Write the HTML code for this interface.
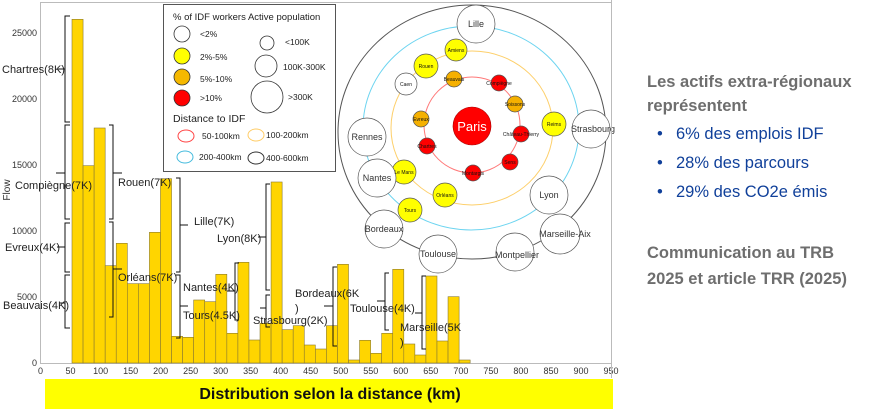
<!DOCTYPE html>
<html><head><meta charset="utf-8"><style>
body{margin:0;width:871px;height:413px;background:#fff;overflow:hidden;font-family:"Liberation Sans",sans-serif}
svg{position:absolute;left:0;top:0}
.r{position:absolute;left:647px;font-family:"Liberation Sans",sans-serif}
</style></head><body>
<svg width="871" height="413" viewBox="0 0 871 413" font-family="Liberation Sans, sans-serif">
<rect x="40.5" y="2.5" width="571" height="361" fill="none" stroke="#bbb" stroke-width="1"/>
<g fill="#FFD500" stroke="#8a7a30" stroke-width="0.6">
<rect x="72" y="19.3" width="11.06" height="343.7"/>
<rect x="83.06" y="165.7" width="11.06" height="197.3"/>
<rect x="94.12" y="128" width="11.06" height="235"/>
<rect x="105.18" y="265.7" width="11.06" height="97.3"/>
<rect x="116.24" y="243.3" width="11.06" height="119.7"/>
<rect x="127.3" y="283.7" width="11.06" height="79.3"/>
<rect x="138.36" y="283.7" width="11.06" height="79.3"/>
<rect x="149.42" y="232.3" width="11.06" height="130.7"/>
<rect x="160.48" y="178.7" width="11.06" height="184.3"/>
<rect x="171.54" y="336.3" width="11.06" height="26.7"/>
<rect x="182.6" y="337.3" width="11.06" height="25.7"/>
<rect x="193.66" y="300" width="11.06" height="63"/>
<rect x="204.72" y="301.7" width="11.06" height="61.3"/>
<rect x="215.78" y="274.3" width="11.06" height="88.7"/>
<rect x="226.84" y="333.3" width="11.06" height="29.7"/>
<rect x="237.9" y="262.3" width="11.06" height="100.7"/>
<rect x="248.96" y="340" width="11.06" height="23"/>
<rect x="260.02" y="323.3" width="11.06" height="39.7"/>
<rect x="271.08" y="182" width="11.06" height="181"/>
<rect x="282.14" y="329.7" width="11.06" height="33.3"/>
<rect x="293.2" y="325.7" width="11.06" height="37.3"/>
<rect x="304.26" y="345" width="11.06" height="18"/>
<rect x="315.32" y="349" width="11.06" height="14"/>
<rect x="326.38" y="325.7" width="11.06" height="37.3"/>
<rect x="337.44" y="264.3" width="11.06" height="98.7"/>
<rect x="348.5" y="360" width="11.06" height="3"/>
<rect x="359.56" y="340.3" width="11.06" height="22.7"/>
<rect x="370.62" y="353.3" width="11.06" height="9.7"/>
<rect x="381.68" y="333.3" width="11.06" height="29.7"/>
<rect x="392.74" y="269.3" width="11.06" height="93.7"/>
<rect x="403.8" y="344" width="11.06" height="19"/>
<rect x="414.86" y="355" width="11.06" height="8"/>
<rect x="425.92" y="276" width="11.06" height="87"/>
<rect x="436.98" y="341" width="11.06" height="22"/>
<rect x="448.04" y="296.7" width="11.06" height="66.3"/>
<rect x="459.1" y="360" width="11.06" height="3"/>
</g>
<g font-size="9" fill="#333" text-anchor="middle">
<text x="40.5" y="374">0</text><text x="70.5" y="374">50</text><text x="100.6" y="374">100</text><text x="130.6" y="374">150</text><text x="160.6" y="374">200</text><text x="190.6" y="374">250</text><text x="220.7" y="374">300</text><text x="250.7" y="374">350</text><text x="280.7" y="374">400</text><text x="310.7" y="374">450</text><text x="340.8" y="374">500</text><text x="370.8" y="374">550</text><text x="400.8" y="374">600</text><text x="430.8" y="374">650</text><text x="460.9" y="374">700</text><text x="490.9" y="374">750</text><text x="520.9" y="374">800</text><text x="551" y="374">850</text><text x="581" y="374">900</text><text x="611" y="374">950</text>
</g>
<g font-size="9" fill="#333" text-anchor="end">
<text x="37" y="366">0</text><text x="37" y="300">5000</text><text x="37" y="234">10000</text><text x="37" y="168">15000</text><text x="37" y="102">20000</text><text x="37" y="36">25000</text>
</g>
<text transform="translate(10,190) rotate(-90)" font-size="10" fill="#333" text-anchor="middle">Flow</text>
<g fill="none" stroke="#111" stroke-width="1">
<path d="M70 16H65V122H70M65 69H58"/>
<path d="M70 125H65V219H70M65 173H56"/>
<path d="M70 223H65V272H70M65 247H57"/>
<path d="M70 275H65V328H70M65 303H60"/>
<path d="M109 125H113V219H109M113 173H122"/>
<path d="M109 222H113V317H109M113 269H122"/>
<path d="M176 178H180V272H176M180 225H188"/>
<path d="M176 275H180V338H176M180 306H188"/>
<path d="M239 263H235V320H239M235 291H227"/>
<path d="M270 184H266V290H270M266 237H258"/>
<path d="M270 295H266V327H270M266 308H260"/>
<path d="M337 267H333V346H337M333 306H324"/>
<path d="M389 273H385V330H389M385 301H377"/>
<path d="M426 276H422V349H426M422 313H415"/>
</g>
<g font-size="11" fill="#222">
<text x="2" y="73">Chartres(8K)</text>
<text x="15" y="189">Compiègne(7K)</text>
<text x="5" y="251">Evreux(4K)</text>
<text x="3" y="309">Beauvais(4K)</text>
<text x="118" y="186">Rouen(7K)</text>
<text x="118" y="281">Orléans(7K)</text>
<text x="194" y="225">Lille(7K)</text>
<text x="183" y="291">Nantes(4K)</text>
<text x="183" y="319">Tours(4.5K)</text>
<text x="217" y="242">Lyon(8K)</text>
<text x="253" y="324">Strasbourg(2K)</text>
<text x="295" y="297">Bordeaux(6K</text>
<text x="295" y="312">)</text>
<text x="350" y="312">Toulouse(4K)</text>
<text x="400" y="331">Marseille(5K</text>
<text x="400" y="346">)</text>
</g>
<!-- legend -->
<rect x="163.5" y="4.5" width="172" height="167" fill="#fff" stroke="#555" stroke-width="1"/>
<text x="173" y="20" font-size="9.5" fill="#222">% of IDF workers Active population</text>
<g stroke="#333" stroke-width="0.8">
<circle cx="182" cy="34" r="8" fill="#fff"/>
<circle cx="182" cy="56" r="8" fill="#ffff00"/>
<circle cx="182" cy="77" r="8" fill="#f5b800"/>
<circle cx="182" cy="98" r="8" fill="#ff0000"/>
<circle cx="267" cy="43" r="7" fill="#fff"/>
<circle cx="266" cy="66" r="11" fill="#fff"/>
<circle cx="267" cy="97" r="16" fill="#fff"/>
</g>
<g font-size="8.5" fill="#222">
<text x="200" y="37">&lt;2%</text><text x="200" y="60">2%-5%</text><text x="200" y="82">5%-10%</text><text x="200" y="101">&gt;10%</text>
<text x="285" y="45">&lt;100K</text><text x="283" y="70">100K-300K</text><text x="288" y="100">&gt;300K</text>
</g>
<text x="173" y="122" font-size="10.5" fill="#222">Distance to IDF</text>
<g fill="none" stroke-width="1">
<ellipse cx="186" cy="136" rx="8" ry="6" stroke="#f44"/>
<ellipse cx="256" cy="135" rx="8" ry="6" stroke="#fc6"/>
<ellipse cx="185" cy="157" rx="8" ry="6" stroke="#4bd"/>
<ellipse cx="256" cy="158" rx="8" ry="6" stroke="#333"/>
</g>
<g font-size="8.5" fill="#222">
<text x="202" y="139">50-100km</text><text x="266" y="138">100-200km</text><text x="199" y="160">200-400km</text><text x="266" y="161">400-600km</text>
</g>
<!-- rings -->
<g fill="none" stroke-width="1">
<ellipse cx="472" cy="132" rx="134" ry="127" stroke="#555"/>
<ellipse cx="471" cy="128" rx="108" ry="102" stroke="#6cd4f0"/>
<ellipse cx="472" cy="128" rx="81" ry="77" stroke="#fdcf6a"/>
<circle cx="472" cy="125" r="48" stroke="#f77"/>
</g>
<circle cx="472" cy="126" r="19" fill="#f00" stroke="#a00" stroke-width="0.6"/>
<text x="472" y="131" font-size="13" fill="#fff" text-anchor="middle">Paris</text>
<g stroke="#555" stroke-width="0.7">
<circle cx="476" cy="24" r="19" fill="#fff"/>
<circle cx="456" cy="50" r="11" fill="#ff0"/>
<circle cx="426" cy="66" r="12" fill="#ff0"/>
<circle cx="406" cy="84" r="11" fill="#fff"/>
<circle cx="454" cy="79" r="8" fill="#f5b000"/>
<circle cx="499" cy="83" r="8" fill="#f00"/>
<circle cx="515" cy="104" r="8" fill="#f5b000"/>
<circle cx="554" cy="124" r="12" fill="#ff0"/>
<circle cx="591" cy="129" r="19" fill="#fff"/>
<circle cx="421" cy="119" r="8" fill="#f5b000"/>
<circle cx="427" cy="146" r="8" fill="#f00"/>
<circle cx="521" cy="134" r="8" fill="#f00"/>
<circle cx="510" cy="162" r="8" fill="#f00"/>
<circle cx="473" cy="173" r="8" fill="#f00"/>
<circle cx="404" cy="172" r="12" fill="#ff0"/>
<circle cx="445" cy="195" r="12" fill="#ff0"/>
<circle cx="410" cy="210" r="12" fill="#ff0"/>
<circle cx="367" cy="137" r="19" fill="#fff"/>
<circle cx="377" cy="178" r="19" fill="#fff"/>
<circle cx="549" cy="195" r="19" fill="#fff"/>
<circle cx="384" cy="229" r="19" fill="#fff"/>
<circle cx="560" cy="234" r="20" fill="#fff"/>
<circle cx="438" cy="254" r="19" fill="#fff"/>
<circle cx="515" cy="252" r="19" fill="#fff"/>
</g>
<g font-size="5" fill="#111" text-anchor="middle">
<text x="456" y="52">Amiens</text><text x="426" y="68">Rouen</text><text x="406" y="86">Caen</text><text x="454" y="81">Beauvais</text><text x="499" y="85">Compiègne</text><text x="515" y="106">Soissons</text><text x="554" y="126">Reims</text><text x="421" y="121">Evreux</text><text x="427" y="148">Chartres</text><text x="521" y="136">Château-Thierry</text><text x="510" y="164">Sens</text><text x="473" y="175">Montargis</text><text x="404" y="174">Le Mans</text><text x="445" y="197">Orléans</text><text x="410" y="212">Tours</text>
</g>
<g font-size="9" fill="#333" text-anchor="middle">
<text x="476" y="27">Lille</text><text x="593" y="132">Strasbourg</text><text x="367" y="140">Rennes</text><text x="377" y="181">Nantes</text><text x="549" y="198">Lyon</text><text x="384" y="232">Bordeaux</text><text x="565" y="237">Marseille-Aix</text><text x="438" y="257">Toulouse</text><text x="517" y="258">Montpellier</text>
</g>
<rect x="45" y="379" width="568" height="30" fill="#ffff00"/>
<text x="330" y="399" font-size="16" font-weight="bold" fill="#111" text-anchor="middle">Distribution selon la distance (km)</text>
<line x1="611.5" y1="0" x2="611.5" y2="378" stroke="#bbb"/>
<g font-size="16.5" font-weight="bold" fill="#6e6e6e">
<text x="647" y="87">Les actifs extra-régionaux</text>
<text x="647" y="111">représentent</text>
<text x="647" y="258">Communication au TRB</text>
<text x="647" y="284">2025 et article TRR (2025)</text>
</g>
<g font-size="16.5" fill="#10409a">
<text x="657" y="139">•</text><text x="676" y="139">6% des emplois IDF</text>
<text x="657" y="168">•</text><text x="676" y="168">28% des parcours</text>
<text x="657" y="197">•</text><text x="676" y="197">29% des CO2e émis</text>
</g>
</svg>
</body></html>
